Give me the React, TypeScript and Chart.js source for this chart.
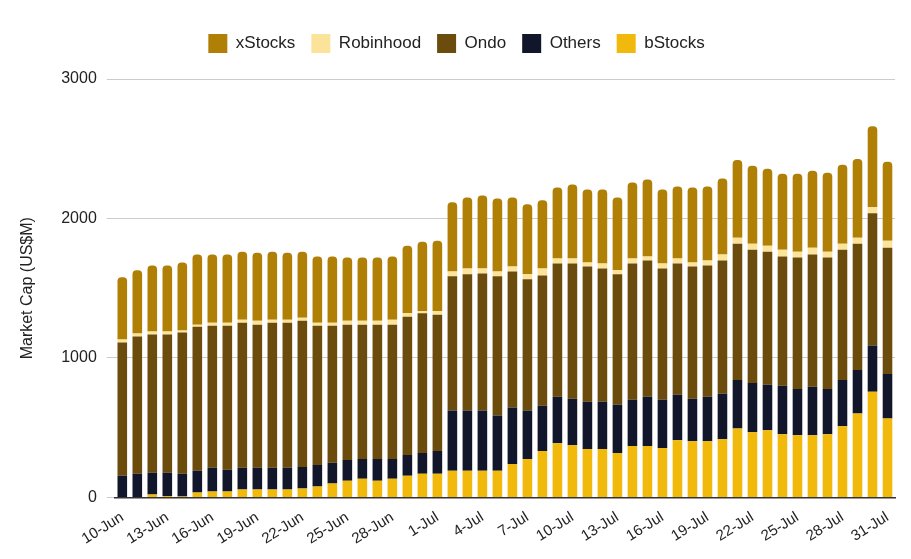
import React, { useEffect, useRef } from "react";
import { Chart, registerables } from "chart.js";
Chart.register(...registerables);

const labels: string[] = [];
(() => {
  for (let d = 10; d <= 30; d++) labels.push(`${d}-Jun`);
  for (let d = 1; d <= 31; d++) labels.push(`${d}-Jul`);
})();

const bStocks = [0,0,21,10,7,35,42,42,56,56,56,56,64,78,99,120,134,120,134,156,170,170,191,191,191,191,240,276,332,389,375,347,347,318,368,368,354,410,403,403,418,495,467,481,453,446,446,453,510,602,757,566];
const others = [156,170,156,167,163,156,170,156,156,156,156,156,155,155,149,149,142,156,142,148,148,162,432,432,432,396,404,347,326,333,333,339,339,347,333,354,347,326,305,319,325,347,354,326,347,332,347,325,332,311,333,319];
const ondo = [955,984,991,991,1012,1033,1019,1033,1041,1026,1041,1041,1048,998,983,969,962,962,962,991,1003,977,962,977,983,998,976,941,934,955,969,970,956,935,976,976,941,941,948,941,955,977,955,955,927,942,948,942,934,906,948,906];
const robinhood = [21,21,21,21,14,14,22,22,21,29,21,21,21,22,22,29,29,29,36,28,16,28,35,42,36,35,36,36,50,36,36,28,35,28,36,29,35,36,28,35,43,42,43,43,49,42,50,42,43,42,43,49];
const xStocks = [446,453,474,474,488,503,488,488,488,488,488,481,474,474,474,453,453,453,453,482,496,503,496,509,523,524,495,502,488,509,530,524,531,523,545,552,531,516,538,531,545,559,559,552,545,559,552,566,566,566,580,566];

const legendSpacer = {
  id: "legendSpacer",
  beforeInit(chart: any) {
    const orig = chart.legend.fit;
    chart.legend.fit = function () {
      orig.bind(chart.legend)();
      this.height += 16;
    };
  },
};

export default function App() {
  const ref = useRef<HTMLCanvasElement>(null);
  useEffect(() => {
    const font = "'Liberation Sans', Arial, sans-serif";
    const mk = (label: string, data: number[], color: string, top = false) => ({
      label, data, backgroundColor: color, borderWidth: 0,
      borderRadius: top ? { topLeft: 4, topRight: 4, bottomLeft: 0, bottomRight: 0 } : 0,
      borderSkipped: false as any,
      barPercentage: 0.64, categoryPercentage: 1,
    });
    const chart = new Chart(ref.current!, {
      type: "bar",
      plugins: [legendSpacer],
      data: {
        labels,
        datasets: [
          mk("bStocks", bStocks, "#F0B90B"),
          mk("Others", others, "#11162B"),
          mk("Ondo", ondo, "#6B4C0C"),
          mk("Robinhood", robinhood, "#FBE39A"),
          mk("xStocks", xStocks, "#B07F06", true),
        ],
      },
      options: {
        animation: false,
        responsive: true,
        maintainAspectRatio: false,
        layout: { padding: { left: 10, right: 8, top: 10, bottom: 0 } },
        plugins: {
          legend: {
            reverse: true,
            position: "top",
            labels: { font: { family: font, size: 17 }, color: "#222", boxWidth: 19, boxHeight: 19, padding: 16 },
          },
          tooltip: { enabled: false },
        },
        scales: {
          x: {
            stacked: true,
            grid: { display: false },
            border: { color: "#333", width: 1.5 },
            ticks: {
              autoSkip: false, maxRotation: 32, minRotation: 32,
              font: { family: font, size: 15 }, color: "#222",
              callback: (_v: any, i: number) => (i % 3 === 0 ? labels[i] : ""),
            },
          },
          y: {
            stacked: true, min: 0, max: 3000,
            border: { display: false },
            grid: { color: "#ccc" },
            ticks: {
              stepSize: 1000, font: { family: font, size: 16 }, color: "#222", padding: 10,
              callback: (v: any) => String(v),
            },
            title: { display: true, text: "Market Cap (US$M)", font: { family: font, size: 16 }, color: "#222", padding: { top: 0, bottom: 14 } },
          },
        },
      },
    });
    return () => chart.destroy();
  }, []);
  return (
    <div style={{ width: 895, height: 543 }}>
      <canvas ref={ref} />
    </div>
  );
}
